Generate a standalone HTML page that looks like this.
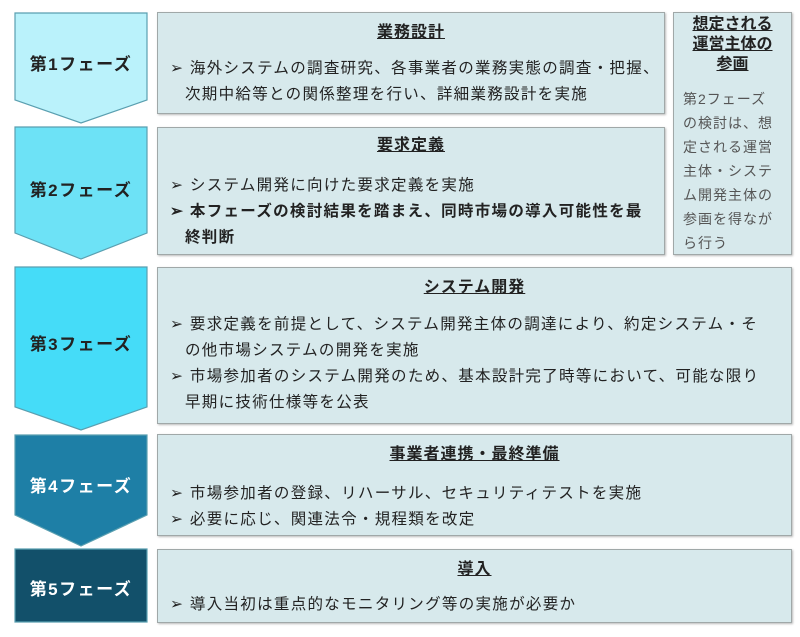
<!DOCTYPE html>
<html><head><meta charset="utf-8"><style>
body{margin:0;width:800px;height:637px;background:#fff;position:relative;overflow:hidden;font-family:"Liberation Sans","Noto Sans CJK JP",sans-serif;color:#222}
.b{position:absolute;background:#d7e9ec;border:1.5px solid #a0a8a8;box-sizing:border-box;box-shadow:1px 1px 2px #bbb}
.t{text-align:center;font-weight:bold;text-decoration:underline;font-size:16px;line-height:20px;letter-spacing:1px}
.p{position:absolute;left:12px;font-size:15.5px;line-height:26px;letter-spacing:1.3px;white-space:nowrap}
.p div{padding-left:15px;text-indent:-15px}
.lb{position:absolute;left:15px;width:132px;text-align:center;font-weight:bold;font-size:17px;letter-spacing:1.5px}
</style></head><body>
<svg width="800" height="637" style="position:absolute;left:0;top:0">
<g stroke="#5a9fb0" stroke-width="1.2">
<polygon points="15,13 147,13 147,100 81,123 15,100" fill="#baf2fb"/>
<polygon points="15,127 147,127 147,233 81,259 15,233" fill="#6de2f6"/>
<polygon points="15,267 147,267 147,407 81,430 15,407" fill="#45dcf8"/>
<polygon points="15,435 147,435 147,515 81,546 15,515" fill="#1e7fa6"/>
<polygon points="15,549 147,549 147,622 15,622" fill="#12506a"/>
</g></svg>
<div class="lb" style="top:50px">第1フェーズ</div>
<div class="lb" style="top:176px">第2フェーズ</div>
<div class="lb" style="top:330px">第3フェーズ</div>
<div class="lb" style="top:472px;color:#fff">第4フェーズ</div>
<div class="lb" style="top:575px;color:#fff">第5フェーズ</div>

<div class="b" style="left:157px;top:12px;width:508px;height:102px">
<div class="t" style="margin-top:10px">業務設計</div>
<div class="p" style="top:43px"><div>➢ 海外システムの調査研究、各事業者の業務実態の調査・把握、<br>次期中給等との関係整理を行い、詳細業務設計を実施</div></div></div>

<div class="b" style="left:157px;top:127px;width:508px;height:128px">
<div class="t" style="margin-top:8px">要求定義</div>
<div class="p" style="top:45px"><div>➢ システム開発に向けた要求定義を実施</div><div style="font-weight:bold">➢ 本フェーズの検討結果を踏まえ、同時市場の導入可能性を最<br>終判断</div></div></div>

<div class="b" style="left:673px;top:12px;width:119px;height:243px">
<div class="t" style="margin-top:2px;line-height:20px;letter-spacing:0">想定される<br>運営主体の<br>参画</div>
<div style="position:absolute;left:9px;top:74px;font-size:14px;line-height:24px;color:#555;letter-spacing:1px;white-space:nowrap">第2フェーズ<br>の検討は、想<br>定される運営<br>主体・システ<br>ム開発主体の<br>参画を得なが<br>ら行う</div></div>

<div class="b" style="left:157px;top:267px;width:635px;height:157px">
<div class="t" style="margin-top:10px">システム開発</div>
<div class="p" style="top:44px"><div>➢ 要求定義を前提として、システム開発主体の調達により、約定システム・そ<br>の他市場システムの開発を実施</div><div>➢ 市場参加者のシステム開発のため、基本設計完了時等において、可能な限り<br>早期に技術仕様等を公表</div></div></div>

<div class="b" style="left:157px;top:434px;width:635px;height:102px">
<div class="t" style="margin-top:10px">事業者連携・最終準備</div>
<div class="p" style="top:46px"><div>➢ 市場参加者の登録、リハーサル、セキュリティテストを実施</div><div>➢ 必要に応じ、関連法令・規程類を改定</div></div></div>

<div class="b" style="left:157px;top:549px;width:635px;height:74px">
<div class="t" style="margin-top:10px">導入</div>
<div class="p" style="top:42px"><div>➢ 導入当初は重点的なモニタリング等の実施が必要か</div></div></div>
</body></html>
